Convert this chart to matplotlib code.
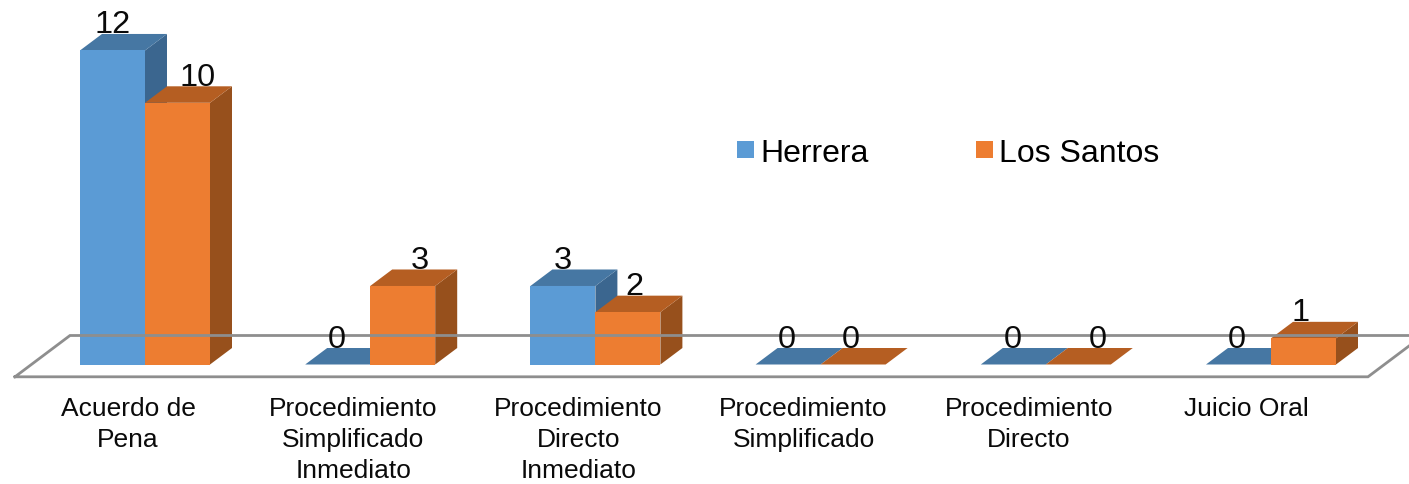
"""Bar chart with a fake 3D look: Herrera vs Los Santos per procedure type."""

import matplotlib
matplotlib.use('Agg')
import matplotlib.pyplot as plt
from matplotlib.patches import Polygon, Patch

plt.rcParams['font.family'] = ['Liberation Sans', 'DejaVu Sans']

# ── data ─────────────────────────────────────────────────────────────────────
CATEGORIES = ['Acuerdo de\nPena', 'Procedimiento\nSimplificado\nInmediato',
              'Procedimiento\nDirecto\nInmediato', 'Procedimiento\nSimplificado',
              'Procedimiento\nDirecto', 'Juicio Oral']
HERRERA   = [12, 0, 3, 0, 0, 0]
LOS_SANTOS = [10, 3, 2, 0, 0, 1]

# ── layout (pixels of the 1409x485 picture) ──────────────────────────────────
W_PX, H_PX = 1409, 485
GROUP_STEP_PX = 225.2
BAR_W_PX = 65
BASE_Y_PX = 365.5
UNIT_PX = 26.17
FIRST_SPLIT_PX = 145
DEPTH_X_PX, DEPTH_Y_PX = 22, 16.5

C_HERRERA = ('#5B9BD5', '#4677A3', '#3B668F')   # front, top, side
C_SANTOS = ('#ED7D31', '#B55E22', '#97501C')

# hand-tuned label shifts, the original chart places them unevenly
SHIFT_HERRERA = [0, -1, 0, -1, -1, -2]
SHIFT_SANTOS = [20, 17, 6, -2, 19, -3]
SHIFT_CATEGORY = [0, 0, 0, 0, 0, -8]


def px_x(dx):
    return dx / GROUP_STEP_PX


def px_y(dy):
    return dy / UNIT_PX


def draw_bar(ax, left, value, colors):
    w, dx, dy = px_x(BAR_W_PX), px_x(DEPTH_X_PX), px_y(DEPTH_Y_PX)
    right = left + w
    # side and top first, front goes over them
    if value > 0:
        ax.add_patch(Polygon([(right, 0), (right + dx, dy), (right + dx, value + dy), (right, value)],
                             closed=True, fc=colors[2], ec='none', lw=0))
    ax.add_patch(Polygon([(left, value), (left + dx, value + dy), (right + dx, value + dy), (right, value)],
                         closed=True, fc=colors[1], ec='none', lw=0))
    if value > 0:
        ax.add_patch(Polygon([(left, 0), (right, 0), (right, value), (left, value)],
                             closed=True, fc=colors[0], ec='none', lw=0))


fig = plt.figure(figsize=(W_PX / 100, H_PX / 100), dpi=100)
ax = fig.add_axes([0, 0, 1, 1])
ax.set_xlim(px_x(-FIRST_SPLIT_PX), px_x(W_PX - FIRST_SPLIT_PX))
ax.set_ylim(px_y(BASE_Y_PX - H_PX), px_y(BASE_Y_PX))
ax.axis('off')

# floor
floor_x = [15, 70, 1423, 1368, 15]
floor_y = [377.8, 336.5, 336.5, 377.8, 377.8]
ax.plot([px_x(x - FIRST_SPLIT_PX) for x in floor_x], [px_y(BASE_Y_PX - y) for y in floor_y],
        color='#8E8E8E', lw=2, solid_joinstyle='miter')

dx, dy, w = px_x(DEPTH_X_PX), px_y(DEPTH_Y_PX), px_x(BAR_W_PX)
label_gap = px_y(1.5)
for i, cat in enumerate(CATEGORIES):
    draw_bar(ax, i - w, HERRERA[i], C_HERRERA)
    draw_bar(ax, i, LOS_SANTOS[i], C_SANTOS)

    ax.text(i - w / 2 + px_x(SHIFT_HERRERA[i]), HERRERA[i] + dy + label_gap, str(HERRERA[i]),
            ha='center', va='baseline', fontsize=23.4, color='#0a0a0a')
    ax.text(i + w / 2 + px_x(SHIFT_SANTOS[i]), LOS_SANTOS[i] + dy + label_gap, str(LOS_SANTOS[i]),
            ha='center', va='baseline', fontsize=23.4, color='#0a0a0a')

    ax.text(i + px_x(SHIFT_CATEGORY[i] - 17), px_y(BASE_Y_PX - 397.5), cat, ha='center', va='top',
            fontsize=19, linespacing=1.36, color='#0a0a0a')

handles = [Patch(fc=C_HERRERA[0], ec='none'), Patch(fc=C_SANTOS[0], ec='none')]
fig.legend(handles, ['Herrera', 'Los Santos'], ncol=2, frameon=False, fontsize=23,
           loc='center left', bbox_to_anchor=(737 / W_PX, 1 - 154 / H_PX), borderaxespad=0,
           borderpad=0, handlelength=0.53, handleheight=0.44, handletextpad=0.2,
           columnspacing=3.35)

fig.savefig('out.png', dpi=100)
